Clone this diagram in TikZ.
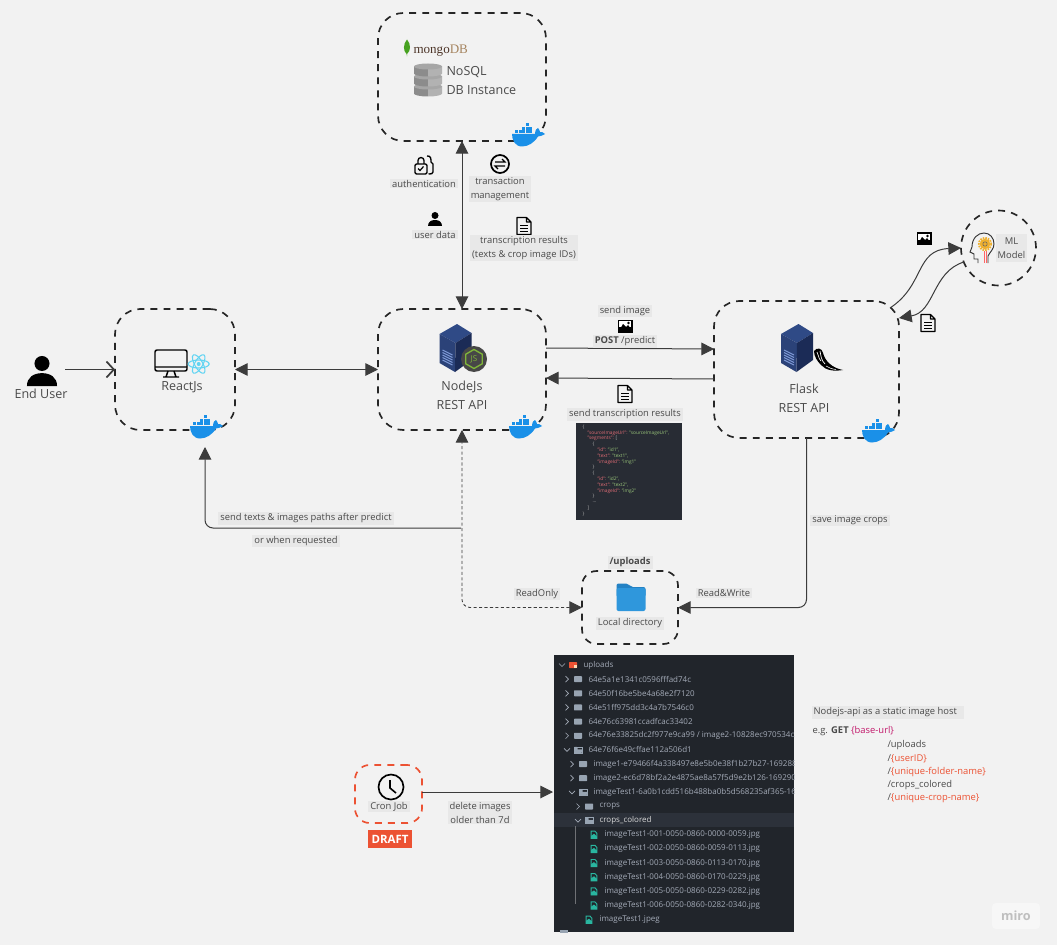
\documentclass[tikz,border=0pt]{standalone}
\usepackage{fontspec}
\setmainfont{Open Sans}
\newfontfamily\logofont{Liberation Serif}
\usetikzlibrary{arrows.meta}

\definecolor{pagebg}{HTML}{F2F2F2}
\definecolor{lblbg}{HTML}{E8E8E8}
\definecolor{ink}{HTML}{4A4A4A}
\definecolor{linecol}{HTML}{3C3C3C}
\definecolor{draftred}{HTML}{EC5233}
\definecolor{dockblue}{HTML}{1A90E8}
\definecolor{panelA}{HTML}{282C34}
\definecolor{panelB}{HTML}{21252B}
\definecolor{rowhi}{HTML}{2C313A}
\definecolor{rowtxt}{HTML}{A4ABB8}
\definecolor{treefold}{HTML}{98A4B2}
\definecolor{treefile}{HTML}{29B6A0}
\definecolor{jsonkey}{HTML}{E06C75}
\definecolor{jsonval}{HTML}{98C379}
\definecolor{pinkurl}{HTML}{C2186B}
\definecolor{srvtop}{HTML}{2F4A86}
\definecolor{srvleft}{HTML}{2B4278}
\definecolor{srvright}{HTML}{1B2B56}
\definecolor{srvline}{HTML}{7F9AD8}
\definecolor{jsgreen}{HTML}{7FB53A}
\definecolor{folderbk}{HTML}{2482C4}
\definecolor{folderfr}{HTML}{2F97DC}
\definecolor{atomcol}{HTML}{61D4F2}
\definecolor{gearcol}{HTML}{EFB02E}
\definecolor{mongobr}{HTML}{4E3629}
\definecolor{mongotn}{HTML}{A68560}

\newcommand{\smallfont}{\fontsize{7.05}{10.5}\selectfont}
\newcommand{\mainfont}{\fontsize{9.4}{14.2}\selectfont}

\tikzset{every picture/.style={line width=0.75pt}}
\tikzset{
  every pic/.style={yscale=-1},
  dashbox/.style={draw=black!85,rounded corners=19pt,line width=1.25pt,dash pattern=on 5.2pt off 4.6pt,inner sep=0pt,outer sep=0pt},
  conn/.style={draw=linecol,line width=0.75pt,rounded corners=6pt,>={Triangle[length=9.5pt,width=9.5pt]}},
  lbl/.style={fill=lblbg,text=ink,font=\smallfont,align=center,inner xsep=1.5pt,inner ysep=1pt},
  plaintxt/.style={text=ink,font=\smallfont,align=left,inner sep=0pt,anchor=west},
  maintxt/.style={text=ink,font=\mainfont,align=center,inner sep=0pt},
  rownode/.style={text=rowtxt,font=\fontsize{6}{8}\selectfont,inner sep=0pt,anchor=west},
  jsonrow/.style={text=white!70!black,font=\fontsize{3.6}{4}\selectfont,inner sep=0pt,anchor=west},
  whale/.pic={
    \fill[dockblue] (-16,-1) -- (7,-1) .. controls (7,-5) and (9,-7) .. (10,-7) .. controls (11,-6) and (12,-4) .. (12,-3) .. controls (13,-3.5) and (15,-3) .. (17,-1) .. controls (14,1) and (12,1) .. (10,1.5) .. controls (6,8) and (0,11.5) .. (-6,11.5) .. controls (-13,11.5) and (-16,5) .. (-16,-1) -- cycle;
    \foreach \bx in {-13,-9.5,-6,-2.5,1} \fill[dockblue] (\bx,-4.6) rectangle +(3,3);
    \foreach \bx in {-6,-2.5,1} \fill[dockblue] (\bx,-8.2) rectangle +(3,3);
    \fill[dockblue] (-2.5,-11.8) rectangle +(3,3);
  },
  servericon/.pic={
    \fill[srvtop] (-16,-14) -- (1.5,-24) -- (16,-15) -- (0,-5) -- cycle;
    \fill[srvleft] (-16,-14) -- (0,-5) -- (-0.5,24) -- (-16,15) -- cycle;
    \fill[srvright] (0,-5) -- (16,-15) -- (16,12) -- (-0.5,24) -- cycle;
    \foreach \sy in {2,4.5,7,9.5,12} \draw[srvline,line width=0.7pt] (-13,\sy) -- (-3,\sy+5);
  },
  jsbadge/.pic={
    \fill[black!72] (0,0) circle (13);
    \draw[jsgreen,line width=1pt] (0,-9.5) -- (8.2,-4.8) -- (8.2,4.8) -- (0,9.5) -- (-8.2,4.8) -- (-8.2,-4.8) -- cycle;
    \node (-js) [text=jsgreen,font=\fontsize{6}{6}\selectfont,inner sep=0pt] at (0,0) {JS};
  },
  flaskhorn/.pic={
    \fill[black] (-14,-9) .. controls (-11,-13) and (-6,-12) .. (-5,-7) .. controls (-3,1) and (4,8) .. (15,10) .. controls (6,11.5) and (-2,10.5) .. (-7,5) .. controls (-11,1) and (-14,-4) .. (-14,-9) -- cycle;
    \draw[white,line width=0.5pt] (-11,-8) .. controls (-9,-5) and (-10,-2) .. (-7,1);
    \draw[white,line width=0.5pt] (-8,-9) .. controls (-7,-4) and (-7,0) .. (-3,4);
    \draw[white,line width=0.4pt] (-2,6) .. controls (1,8) and (4,9) .. (8,9.5);
  },
  leaficon/.pic={
    \fill[jsgreen!70!green!80!black] (0,-8.5) .. controls (4,-4) and (4,3) .. (0,6) -- (0,8.5) -- (-0.4,6) .. controls (-4,3) and (-4,-4) .. (0,-8.5) -- cycle;
  },
  dbicon/.pic={
    \foreach \dy in {10,0,-10} {
      \fill[black!45] (-14,\dy-3.5) -- (-14,\dy+3.5) arc (180:90:14 and 3) -- (0,\dy-3.5) -- cycle;
      \fill[black!30] (14,\dy-3.5) -- (14,\dy+3.5) arc (0:90:14 and 3) -- (0,\dy-3.5) -- cycle;
      \fill[black!35] (0,\dy-3.5) ellipse [x radius=14,y radius=3];
    }
  },
  docicon/.pic={
    \draw[black,line width=0.85pt,line join=round] (-7,-8.5) -- (2.5,-8.5) -- (7,-4) -- (7,8.5) -- (-7,8.5) -- cycle (2.5,-8.5) -- (2.5,-4) -- (7,-4);
    \foreach \ly in {-1,2,5} \draw[black,line width=0.7pt] (-4,\ly) -- (4,\ly);
  },
  imgicon/.pic={
    \fill[black] (-7.5,-6.5) rectangle (7.5,6.5);
    \fill[white] (-6,-5) rectangle (6,1);
    \fill[black] (-6,5) -- (-2,-2) -- (1,1) -- (3,-1) -- (6,3) -- (6,5) -- cycle;
    \fill[black] (3.5,-3) circle (1.4);
  },
  lockicon/.pic={
    \draw[black,line width=1pt,rounded corners=1pt] (-9,-1) rectangle (3,9);
    \draw[black,line width=1pt] (-6,-1) -- (-6,-4.5) arc (180:360:3) -- (0,-1);
    \draw[black,line width=1pt] (3,-9) .. controls (7,-9.5) and (7,-6) .. (7,-3) -- (9,-1) -- (9,7) .. controls (9,9) and (7,9) .. (4.5,9);
    \draw[black,line width=0.9pt] (-6,3.5) -- (-4,5.5) -- (-0.5,1.5);
  },
  swapicon/.pic={
    \draw[black,line width=1.3pt] (0,0) circle (9);
    \draw[black,line width=0.9pt] (-5,-2) -- (5,-2) -- (2,-5);
    \draw[black,line width=0.9pt] (5,2) -- (-5,2) -- (-2,5);
  },
  usericon/.pic={
    \fill[black] (0,-3.5) circle (3.5);
    \fill[black] (-7,7) .. controls (-7,3) and (-4,1) .. (0,1) .. controls (4,1) and (7,3) .. (7,7) -- cycle;
  },
  monitoricon/.pic={
    \draw[black,line width=1.1pt,rounded corners=1.5pt] (-16,-10) rectangle (16,11);
    \draw[black,line width=1.1pt] (-16,7) -- (16,7) (-3,11) -- (-5,17) (3,11) -- (5,17) (-8,17) -- (8,17);
  },
  atomicon/.pic={
    \foreach \ra in {0,60,120} \draw[atomcol,line width=0.8pt,rotate=\ra] (0,0) ellipse [x radius=10.5,y radius=4];
    \fill[atomcol] (0,0) circle (2);
  },
  headicon/.pic={
    \draw[black!80,line width=0.7pt] (-4,15) -- (-4,11) -- (-8,11) -- (-8,6) -- (-12,4) -- (-10,-1) .. controls (-10,-10) and (-4,-15) .. (2,-15) .. controls (8,-15) and (12,-10) .. (12,-4) .. controls (12,1) and (8,4) .. (6,8) -- (6,15);
    \draw[red!60!white,line width=0.6pt] (2,3) -- (2,15) (4,3) -- (4,15);
    \draw[gearcol,line width=1.3pt,dash pattern=on 1.2pt off 0.8pt] (3,-4) circle (6.2);
    \fill[gearcol] (3,-4) circle (5.3);
    \draw[black!60,line width=0.4pt] (3,-4) circle (2.2);
  },
  foldericon/.pic={
    \fill[folderbk,rounded corners=1.5pt] (-14.5,-13.5) -- (-3,-13.5) -- (0,-10) -- (14.5,-10) -- (14.5,0) -- (-14.5,0) -- cycle;
    \fill[folderfr,rounded corners=1.5pt] (-14.5,-9) rectangle (14.5,14);
  },
  clockicon/.pic={
    \draw[black,line width=1.25pt] (0,0) circle (12.5);
    \draw[black,line width=1.2pt] (-1,-7) -- (-1,1) -- (5,6);
  },
  chevrt/.pic={\draw[rowtxt,line width=0.5pt] (-1.5,-3) -- (1.5,0) -- (-1.5,3);},
  chevdn/.pic={\draw[rowtxt,line width=0.5pt] (-3,-1.5) -- (0,1.5) -- (3,-1.5);},
  nochev/.pic={},
  foldshut/.pic={\fill[treefold,rounded corners=0.5pt] (-4,-3) rectangle (4,3);},
  foldopen/.pic={\fill[treefold,rounded corners=0.5pt] (-4,-3) rectangle (-0.5,3); \draw[treefold,line width=0.5pt] (-4,-3) rectangle (4,3); \fill[treefold] (-2.5,-0.5) -- (4.5,-0.5) -- (3.5,3) -- (-4,3) -- cycle;},
  foldroot/.pic={\fill[draftred,rounded corners=0.5pt] (-4,-3) rectangle (4,3); \fill[white!70!orange] (1,0) rectangle (4,3);},
  fileteal/.pic={\draw[treefile,line width=0.7pt] (-2.8,-3.6) -- (1,-3.6) -- (2.8,-1.6) -- (2.8,3.6) -- (-2.8,3.6) -- cycle; \fill[treefile] (-2.8,1) -- (0,-1) -- (2.8,1.5) -- (2.8,3.6) -- (-2.8,3.6) -- cycle;},
}

\begin{document}
\begin{tikzpicture}[x=0.75pt,y=0.75pt,yscale=-1,xscale=1]
\fill[pagebg] (0,0) rectangle (1057,945);
\useasboundingbox (0,0) rectangle (1057,945);

%Shape: Rounded Rect boxes
\node (mongo) [dashbox,minimum width=126pt,minimum height=96pt] at (462,77) {};
\node (react) [dashbox,minimum width=90pt,minimum height=90.75pt] at (175,369.5) {};
\node (nodeapi) [dashbox,minimum width=126pt,minimum height=90.75pt] at (462,369.5) {};
\node (flask) [dashbox,minimum width=138.75pt,minimum height=102.75pt] at (806.5,369.5) {};
\node (uploads) [dashbox,rounded corners=11pt,minimum width=72pt,minimum height=54.75pt] at (630,607.5) {};
\node (cron) [dashbox,draw=draftred,rounded corners=11pt,minimum width=50.25pt,minimum height=43.5pt] at (388.5,794) {};
%Shape: Circle
\node (mlmodel) [dashbox,circle,minimum size=56.25pt] at (998.5,248) {};

%Shape: dark panels
\fill[panelA] (576,423) rectangle (682,520);
\fill[panelB] (554,655) rectangle (794,932);
\fill[rowhi] (554,813) rectangle (794,827);

% free ends
\coordinate (enduserout) at (65,369.5);
\coordinate (reactin) at (205,447);
\coordinate (dashjoin) at (461,528);
\coordinate (flaskcorner) at (890,308);
\coordinate (treein) at (553,792);

%Straight Lines
\draw [conn,<->] (mongo.south) -- (nodeapi.north);
\draw [conn,<->] (react.east) -- (nodeapi.west);
\draw [conn,->] (nodeapi.east |- 0,348) -- (flask.west |- 0,349);
\draw [conn,->] (flask.west |- 0,379) -- (nodeapi.east |- 0,378);
\draw [draw=linecol,line width=1.3pt,-{Straight Barb[length=5.5pt,width=12pt]}] (enduserout) -- (react.west);
\draw [conn,->] (cron.east |- treein) -- (treein);
\draw [conn,->] (flask.south) |- (uploads.east);
\draw [conn,->] (dashjoin) -| (reactin);
%Dashed Lines
\draw [conn,<->,line width=0.65pt,dash pattern=on 2.3pt off 1.8pt] (uploads.west) -| (nodeapi.south);
%Curve Lines
\draw [conn,->] (flaskcorner) .. controls (925,285) and (915,250) .. (mlmodel.west);
\draw [conn,->] (mlmodel.202) .. controls (932,272) and (935,312) .. (flask.east |- 0,318);

%Icons
\pic (whaleM) at (528,135) {whale};
\pic (whaleR) at (206,427) {whale};
\pic (whaleN) at (525,427) {whale};
\pic (whaleF) at (878,431) {whale};
\pic (srvN) at (455.5,348) {servericon};
\pic (srvF) at (797,348) {servericon};
\pic (js) at (474,359) {jsbadge};
\pic (horn) at (828,360) {flaskhorn};
\pic (leaf) at (407,48) {leaficon};
\pic (dbcyl) at (428,80) {dbicon};
\pic (lock) at (424,165) {lockicon};
\pic (swap) at (500,164) {swapicon};
\pic (usr) at (435,219) {usericon};
\pic (docA) at (524,226) {docicon};
\pic (imgA) at (625,326) {imgicon};
\pic (docB) at (625,394) {docicon};
\pic (imgB) at (924,239) {imgicon};
\pic (docC) at (928,323) {docicon};
\pic [scale=2.15] (endusr) at (42,371) {usericon};
\pic (mon) at (171,360) {monitoricon};
\pic (atom) at (198.7,364) {atomicon};
\pic (head) at (982,248) {headicon};
\pic (fold) at (631,597) {foldericon};
\pic (clock) at (391,787) {clockicon};

% Text Node
\node (mongoLbl) [inner sep=0pt,anchor=west,font=\logofont\fontsize{9.8}{10}\selectfont] at (413,51) {\textcolor{mongobr}{mongo}\textcolor{mongotn}{DB}};
\node (nosql) [maintxt,align=left,anchor=west] at (446,80.5) {NoSQL\\DB Instance};
\node (endusrLbl) [maintxt] at (41,393.5) {End User};
\node (reactLbl) [maintxt] at (182,387) {ReactJs};
\node (nodeLbl) [maintxt] at (462,395) {NodeJs\\REST API};
\node (flaskLbl) [maintxt] at (804,398.5) {Flask\\REST API};
\node (authLbl) [lbl] at (424,183.5) {authentication};
\node (transLbl) [lbl] at (500,189) {transaction\\management};
\node (userLbl) [lbl] at (435,234.5) {user data};
\node (resLbl) [lbl] at (524,248) {transcription results\\(texts \& crop image IDs)};
\node (sendLbl) [lbl] at (625,311) {send image};
\node (postLbl) [lbl] at (625,341.5) {\textbf{POST} /predict};
\node (sendresLbl) [lbl] at (625,414.5) {send transcription results};
\node (mlLbl) [lbl,minimum width=23pt,minimum height=21.5pt] at (1011.5,248) {ML\\Model};
\node (cropsLbl) [lbl] at (850,520.5) {save image crops};
\node (rwLbl) [lbl] at (724,593) {Read\&Write};
\node (roLbl) [lbl] at (537,594) {ReadOnly};
\node (predLbl) [lbl] at (306,518.5) {send texts \& images paths after predict};
\node (reqLbl) [lbl] at (296,541) {or when requested};
\node (upLbl) [lbl] at (630,562.5) {\textbf{/uploads}};
\node (dirLbl) [lbl] at (630,623.5) {Local directory};
\node (cronLbl) [lbl] at (389,806.5) {Cron Job};
\node (delLbl) [lbl] at (480,812.5) {delete images\\older than 7d};
\node (draft) [fill=draftred,text=white,font=\bfseries\fontsize{8.6}{9}\selectfont,inner sep=0pt,minimum width=33pt,minimum height=13.5pt] at (390,839) {DRAFT};

% Static host note
\node (hostLbl) [lbl,anchor=west] at (811,712.5) {Nodejs-api as a static image host\hspace{4pt}};
\node (egLbl) [plaintxt] at (812,731.5) {e.g. \textbf{GET} \textcolor{pinkurl}{\{base-url\}}};
\node (pathA) [plaintxt] at (887,745.5) {/uploads};
\node (pathB) [plaintxt] at (887,758.5) {/\textcolor{draftred}{\{userID\}}};
\node (pathC) [plaintxt] at (887,772.5) {/\textcolor{draftred}{\{unique-folder-name\}}};
\node (pathD) [plaintxt] at (887,785.5) {/crops\_colored};
\node (pathE) [plaintxt] at (887,798.5) {/\textcolor{draftred}{\{unique-crop-name\}}};

% Json panel
\foreach \r/\lx/\rowtext in {
  0/582/\{,
  1/587/{\textcolor{jsonkey}{"sourceImageUrl":} \textcolor{jsonval}{"sourceImageUrl",}},
  2/587/{\textcolor{jsonkey}{"segments":} [},
  3/592/\{,
  4/597/{\textcolor{jsonkey}{"id":} \textcolor{jsonval}{"id1",}},
  5/597/{\textcolor{jsonkey}{"text":} \textcolor{jsonval}{"text1",}},
  6/597/{\textcolor{jsonkey}{"imageId":} \textcolor{jsonval}{"img1"}},
  7/592/\},
  8/592/\{,
  9/597/{\textcolor{jsonkey}{"id":} \textcolor{jsonval}{"id2",}},
  10/597/{\textcolor{jsonkey}{"text":} \textcolor{jsonval}{"text2",}},
  11/597/{\textcolor{jsonkey}{"imageId":} \textcolor{jsonval}{"img2"}},
  12/592/\},
  13/592/{\ldots},
  14/587/],
  15/582/\}}{
  \pgfmathsetmacro\rowy{427+5.8*\r}
  \node (json\r) [jsonrow] at (\lx,\rowy) {\rowtext};
}

% Folder tree panel
\begin{scope}
\clip (554,655) rectangle (794,932);
\draw[white!35!panelB,line width=0.4pt] (575,826) -- (575,904);
\foreach \r/\lx/\chevpic/\icopic/\rowtext in {
  0/583/chevdn/foldroot/uploads,
  1/588/chevrt/foldshut/64e5a1e1341c0596fffad74c,
  2/588/chevrt/foldshut/64e50f16be5be4a68e2f7120,
  3/588/chevrt/foldshut/64e51ff975dd3c4a7b7546c0,
  4/588/chevrt/foldshut/64e76c63981ccadfcac33402,
  5/588/chevrt/foldshut/{64e76e33825dc2f977e9ca99 / image2-10828ec970534c2},
  6/588/chevdn/foldopen/64e76f6e49cffae112a506d1,
  7/593/chevrt/foldshut/image1-e79466f4a338497e8e5b0e38f1b27b27-169288,
  8/593/chevrt/foldshut/image2-ec6d78bf2a2e4875ae8a57f5d9e2b126-169290,
  9/593/chevdn/foldopen/imageTest1-6a0b1cdd516b488ba0b5d568235af365-16,
  10/599/chevrt/foldshut/crops,
  11/599/chevdn/foldopen/{\textcolor{white!85!black}{crops\_colored}},
  12/604/nochev/fileteal/imageTest1-001-0050-0860-0000-0059.jpg,
  13/604/nochev/fileteal/imageTest1-002-0050-0860-0059-0113.jpg,
  14/604/nochev/fileteal/imageTest1-003-0050-0860-0113-0170.jpg,
  15/604/nochev/fileteal/imageTest1-004-0050-0860-0170-0229.jpg,
  16/604/nochev/fileteal/imageTest1-005-0050-0860-0229-0282.jpg,
  17/604/nochev/fileteal/imageTest1-006-0050-0860-0282-0340.jpg,
  18/599/nochev/fileteal/imageTest1.jpeg}{
  \pgfmathsetmacro\rowy{665+14.15*\r}
  \pic at (\lx-21,\rowy) {\chevpic};
  \pic at (\lx-10,\rowy) {\icopic};
  \node (row\r) [rownode] at (\lx,\rowy) {\rowtext};
}
\fill[treefold] (560,930) rectangle (568,936);
\end{scope}

% Watermark
\fill[white!40!pagebg,rounded corners=3pt] (992,903) rectangle (1040,929);
\node (miro) [text=black!25,font=\bfseries\fontsize{9.5}{10}\selectfont,inner sep=0pt] at (1016,916) {miro};
\end{tikzpicture}
\end{document}
